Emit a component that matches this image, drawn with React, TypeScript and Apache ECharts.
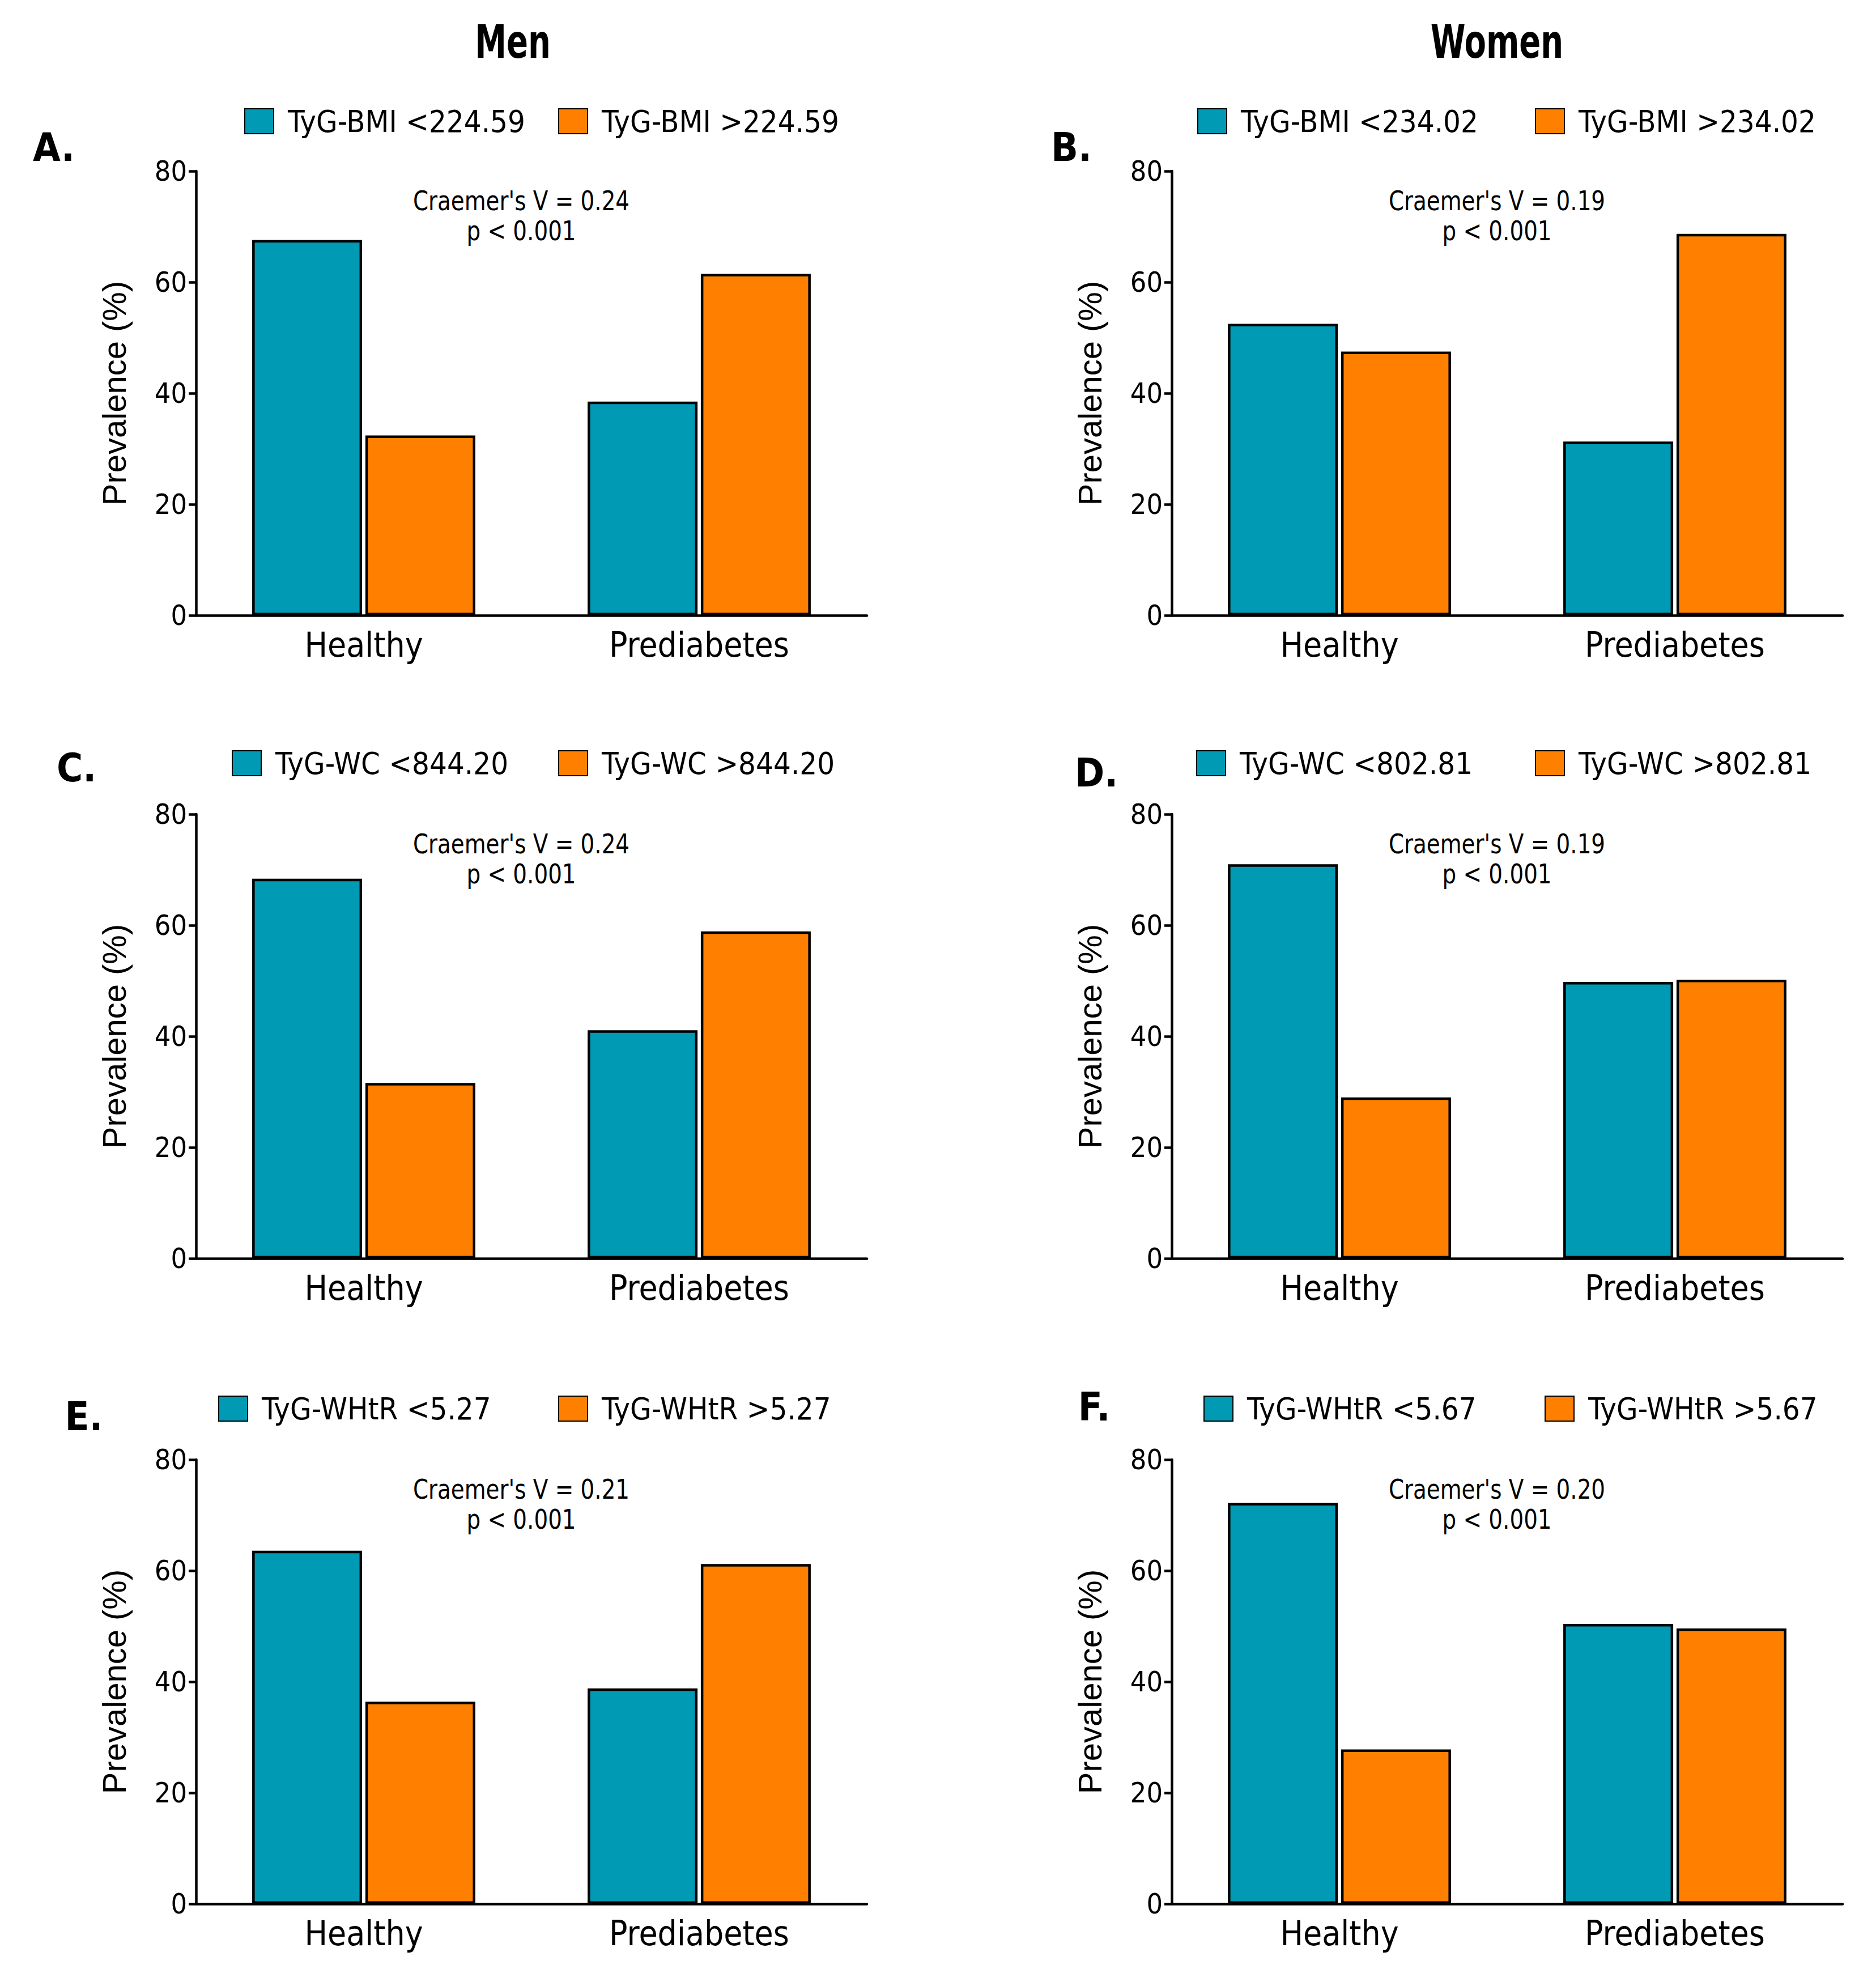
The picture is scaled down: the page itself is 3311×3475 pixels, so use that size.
import React, { useEffect, useRef } from "react";
import * as echarts from "echarts";

const categories = ["Healthy", "Prediabetes"];
const columnTitles = ["Men", "Women"];
const panelLetters = ["A.", "B.", "C.", "D.", "E.", "F."];
const lowLabels = ["TyG-BMI <224.59", "TyG-BMI <234.02", "TyG-WC <844.20", "TyG-WC <802.81", "TyG-WHtR <5.27", "TyG-WHtR <5.67"];
const highLabels = ["TyG-BMI >224.59", "TyG-BMI >234.02", "TyG-WC >844.20", "TyG-WC >802.81", "TyG-WHtR >5.27", "TyG-WHtR >5.67"];
const lowValues = [
  [67.6, 38.5],
  [52.5, 31.3],
  [68.4, 41.1],
  [71.0, 49.8],
  [63.6, 38.8],
  [72.2, 50.4],
];
const highValues = [
  [32.4, 61.5],
  [47.5, 68.7],
  [31.6, 58.9],
  [29.0, 50.2],
  [36.4, 61.2],
  [27.8, 49.6],
];
const cramersV = ["0.24", "0.19", "0.24", "0.19", "0.21", "0.20"];
const pText = "p < 0.001";
const yMin = 0;
const yMax = 80;
const yInterval = 20;
const yAxisName = "Prevalence (%)";

const W = 3311;
const H = 3475;
const NARROW = "'Liberation Sans Narrow', 'DejaVu Sans Condensed', 'Arial Narrow', sans-serif";
const SANS = "'Liberation Sans', Arial, sans-serif";
const TEAL = "#009AB4";
const ORANGE = "#FF8000";

// layout
const gridLefts = [346, 2068];
const gridWidth = 1184;
const gridTops = [302, 1437, 2576];
const gridHeight = 784;
const legendCenters = [209, 1342, 2481];
const legendLowLeft = [426, 2108, 404, 2106, 380, 2119];
const legendHighLeft = [980, 2704, 980, 2704, 980, 2721];
const letterPos = [
  [95, 260],
  [1891, 260],
  [135, 1355],
  [1935, 1364],
  [148, 2500],
  [1931, 2483],
];
const annotX = [920, 2642];
const annotY = [355, 1490, 2629];
const titlePos = [
  [905, 73],
  [2642, 73],
];

export default function App() {
  const ref = useRef<HTMLDivElement>(null);
  useEffect(() => {
    document.body.style.margin = "0";
    document.body.style.overflow = "hidden";
    if (!ref.current) return;
    const chart = echarts.init(ref.current, undefined, { renderer: "svg" });

    const grids: any[] = [];
    const xAxes: any[] = [];
    const yAxes: any[] = [];
    const series: any[] = [];
    const legends: any[] = [];
    const graphics: any[] = [];

    for (let i = 0; i < 6; i++) {
      const col = i % 2;
      const row = Math.floor(i / 2);
      grids.push({ left: gridLefts[col], top: gridTops[row], width: gridWidth, height: gridHeight, containLabel: false });
      xAxes.push({
        type: "category",
        gridIndex: i,
        data: categories,
        axisLine: { lineStyle: { color: "#000", width: 4.5 } },
        axisTick: { alignWithLabel: true, length: 13, lineStyle: { color: "#000", width: 4.5 } },
        axisLabel: { color: "#000", fontSize: 60, fontFamily: NARROW, margin: 22 },
      });
      yAxes.push({
        type: "value",
        gridIndex: i,
        min: yMin,
        max: yMax,
        interval: yInterval,
        name: yAxisName,
        nameLocation: "middle",
        nameGap: 116,
        nameTextStyle: { color: "#000", fontSize: 58, fontFamily: SANS },
        splitLine: { show: false },
        axisLine: { show: true, lineStyle: { color: "#000", width: 4.5 } },
        axisTick: { show: true, length: 13, lineStyle: { color: "#000", width: 4.5 } },
        axisLabel: { color: "#000", fontSize: 50, fontFamily: NARROW, margin: 16 },
      });
      series.push({
        type: "bar",
        name: lowLabels[i],
        xAxisIndex: i,
        yAxisIndex: i,
        data: lowValues[i],
        barWidth: 194,
        barGap: "3%",
        itemStyle: { color: TEAL, borderColor: "#000", borderWidth: 4.5 },
      });
      series.push({
        type: "bar",
        name: highLabels[i],
        xAxisIndex: i,
        yAxisIndex: i,
        data: highValues[i],
        barWidth: 194,
        barGap: "3%",
        itemStyle: { color: ORANGE, borderColor: "#000", borderWidth: 4.5 },
      });
      const lt = legendCenters[row] - 27;
      const legendText = { color: "#000", fontSize: 54, fontFamily: NARROW, padding: [0, 0, 0, 20] };
      legends.push({
        data: [lowLabels[i]],
        left: legendLowLeft[i],
        top: lt,
        icon: "rect",
        itemWidth: 51,
        itemHeight: 44,
        itemGap: 0,
        selectedMode: false,
        textStyle: legendText,
      });
      legends.push({
        data: [highLabels[i]],
        left: legendHighLeft[i],
        top: lt,
        icon: "rect",
        itemWidth: 51,
        itemHeight: 44,
        itemGap: 0,
        selectedMode: false,
        textStyle: legendText,
      });
      graphics.push({
        type: "text",
        x: letterPos[i][0],
        y: letterPos[i][1],
        style: { text: panelLetters[i], fontSize: 70, fontWeight: "bold", fontFamily: NARROW, fill: "#000", align: "center", verticalAlign: "middle" },
      });
      graphics.push({
        type: "text",
        x: annotX[col],
        y: annotY[row],
        scaleX: 0.9,
        style: { text: "Craemer's V = " + cramersV[i], fontSize: 48, fontFamily: NARROW, fill: "#000", align: "center", verticalAlign: "middle" },
      });
      graphics.push({
        type: "text",
        x: annotX[col],
        y: annotY[row] + 53,
        scaleX: 0.9,
        style: { text: pText, fontSize: 48, fontFamily: NARROW, fill: "#000", align: "center", verticalAlign: "middle" },
      });
    }
    for (let c = 0; c < 2; c++) {
      graphics.push({
        type: "text",
        x: titlePos[c][0],
        y: titlePos[c][1],
        scaleX: 0.76,
        style: { text: columnTitles[c], fontSize: 82, fontWeight: "bold", fontFamily: NARROW, fill: "#000", align: "center", verticalAlign: "middle" },
      });
    }

    chart.setOption({
      animation: false,
      backgroundColor: "#fff",
      grid: grids,
      xAxis: xAxes,
      yAxis: yAxes,
      legend: legends,
      series,
      graphic: graphics,
    });
    return () => chart.dispose();
  }, []);
  return <div ref={ref} style={{ width: W, height: H }} />;
}
